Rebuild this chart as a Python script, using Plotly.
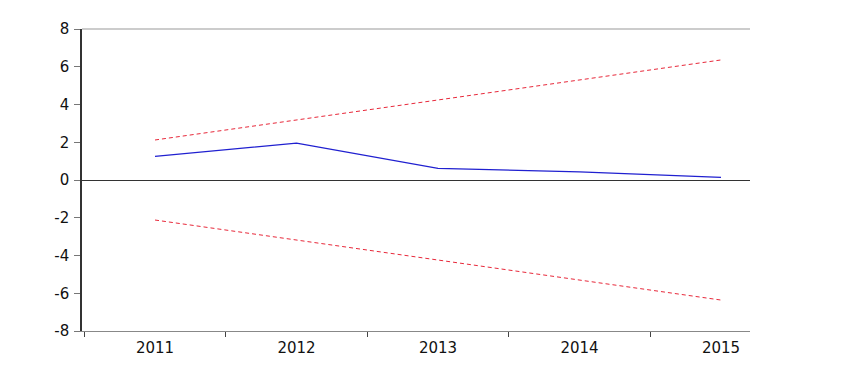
import plotly.graph_objects as go

years = [2011, 2012, 2013, 2014, 2015]
cusum = [1.25, 1.95, 0.62, 0.43, 0.14]
upper_5pct = [2.12, 3.18, 4.24, 5.30, 6.36]
lower_5pct = [-2.12, -3.18, -4.24, -5.30, -6.36]
y_ticks = [-8, -6, -4, -2, 0, 2, 4, 6, 8]
y_ticktext = ["-8", "-6", "-4", "-2", "0", "2", "4", "6", "8"]
x_boundaries = [2010.5, 2011.5, 2012.5, 2013.5, 2014.5]

fig = go.Figure()
fig.add_trace(go.Scatter(x=years, y=upper_5pct, mode="lines",
                         line=dict(color="#e8283a", width=1, dash="4px,3px"), name="5% Significance"))
fig.add_trace(go.Scatter(x=years, y=lower_5pct, mode="lines",
                         line=dict(color="#e8283a", width=1, dash="4px,3px"), showlegend=False))
fig.add_trace(go.Scatter(x=years, y=cusum, mode="lines",
                         line=dict(color="#2020d0", width=1.2), name="CUSUM"))

fig.update_layout(
    width=838, height=361,
    margin=dict(l=74, r=96, t=19, b=34),
    paper_bgcolor="white", plot_bgcolor="white",
    showlegend=False,
    font=dict(family="DejaVu Sans, Arial, sans-serif", size=15, color="#111111"),
    xaxis=dict(
        range=[2010.484, 2015.205],
        tickvals=years, ticktext=[str(y) for y in years],
        ticks="", showgrid=False, zeroline=False,
        showline=True, linecolor="#888888", linewidth=1,
        minor=dict(tickmode="array", tickvals=x_boundaries, ticks="outside",
                   ticklen=5, tickcolor="#444444", tickwidth=1, showgrid=False),
        ticklabelstandoff=3,
    ),
    yaxis=dict(
        range=[-8, 8],
        tickvals=y_ticks, ticktext=y_ticktext,
        ticks="outside", ticklen=6, tickcolor="#777777",
        showgrid=False,
        zeroline=True, zerolinecolor="#333333", zerolinewidth=1,
        showline=True, linecolor="#333333", linewidth=1.5,
        ticklabelstandoff=2,
    ),
    shapes=[dict(type="line", xref="paper", yref="paper", x0=0, x1=1, y0=1, y1=1,
                 line=dict(color="#999999", width=1))],
)

fig.write_html("out.html")
